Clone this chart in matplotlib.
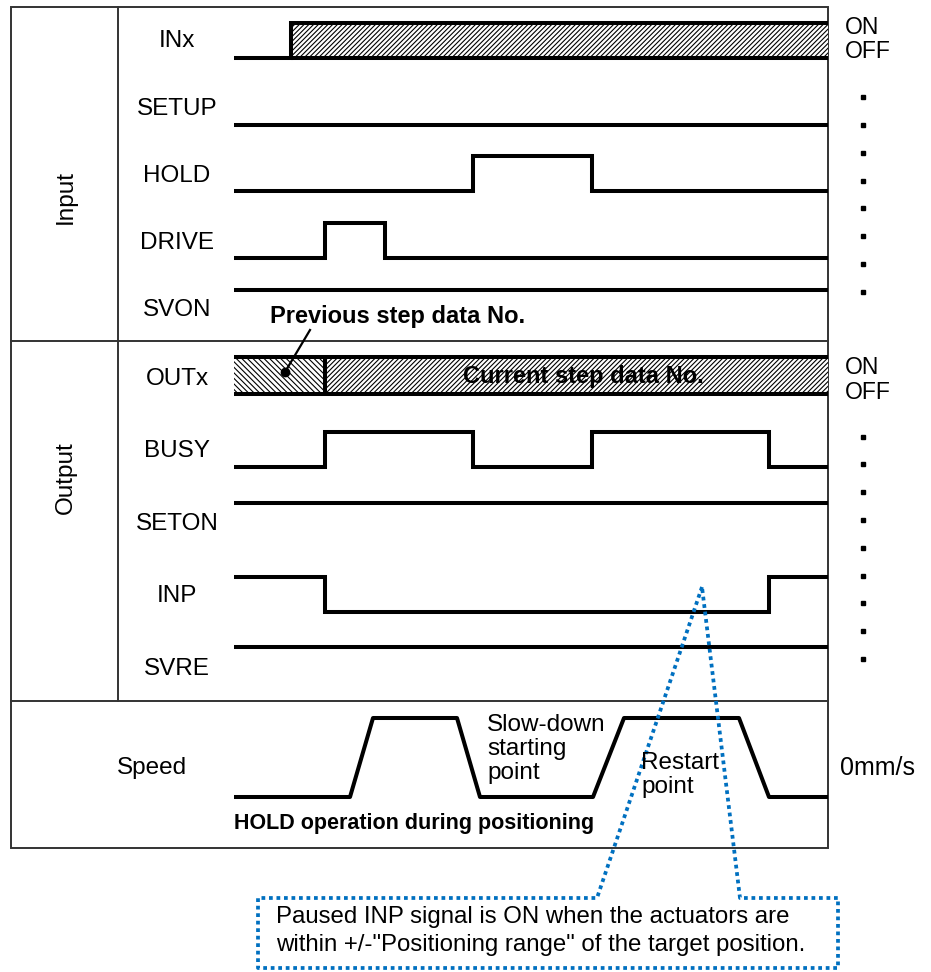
import matplotlib
matplotlib.use("Agg")
import matplotlib.pyplot as plt
from matplotlib.patches import Rectangle

plt.rcParams['font.family'] = ['Liberation Sans', 'DejaVu Sans']
plt.rcParams['hatch.linewidth'] = 0.8

# timing edges (x positions on the diagram's time axis)
T_START = 234
T_END = 828
inx_on = 291
outx_change = 325
hold_edges = [473, 592]
drive_edges = [325, 385]
busy_edges = [325, 473, 592, 769]
inp_edges = [325, 769]

# speed profile
speed_t = [234, 350, 373, 457, 480, 593, 624, 739, 769, 828]
speed_v = [0, 0, 1, 1, 0, 0, 1, 1, 0, 0]

input_names = ["INx", "SETUP", "HOLD", "DRIVE", "SVON"]
output_names = ["OUTx", "BUSY", "SETON", "INP", "SVRE"]
input_label_y = [41, 109, 176, 243, 310]
output_label_y = [379, 451, 524, 596, 669]

# low-level baseline of each row, amplitude of a pulse
input_low = [58, 125, 191, 258, 325]
output_low = [394, 467, 538, 612, 682]
AMP = 35

LW = 2.9
LINE = dict(color='black', lw=LW, solid_joinstyle='miter', solid_capstyle='butt')


def step_wave(edges, start_level, low):
    xs, ys = [T_START], []
    level = start_level
    ys.append(low - AMP * level)
    for e in edges:
        xs += [e, e]
        ys += [low - AMP * level, low - AMP * (1 - level)]
        level = 1 - level
    xs.append(T_END)
    ys.append(low - AMP * level)
    return xs, ys


fig = plt.figure(figsize=(9.31, 9.72), dpi=100)
ax = fig.add_axes([0, 0, 1, 1])
ax.set_xlim(0, 931)
ax.set_ylim(972, 0)
ax.axis('off')

# frame
frame = dict(color='#333333', lw=1.4)
ax.add_patch(Rectangle((11, 7), 817, 841, fill=False, ec='#333333', lw=1.4))
ax.plot([118, 118], [7, 701], **frame)
ax.plot([11, 828], [341, 341], **frame)
ax.plot([11, 828], [701, 701], **frame)

ax.text(66, 197, "Input", rotation=90, ha='center', va='center', fontsize=17.5)
ax.text(66, 478, "Output", rotation=90, ha='center', va='center', fontsize=17.5)

for name, y in zip(input_names + output_names, input_label_y + output_label_y):
    ax.text(177, y, name, ha='center', va='center', fontsize=17.5)

# INx
low = input_low[0]
ax.add_patch(Rectangle((inx_on, low - AMP), T_END - inx_on, AMP, fc='white',
                       ec='black', lw=0, hatch='/' * 7))
ax.plot([T_START, inx_on, inx_on, T_END], [low, low, low - AMP, low - AMP], **LINE)
ax.plot([inx_on, T_END], [low, low], **LINE)

# SETUP (off), HOLD, DRIVE, SVON (on)
ax.plot([T_START, T_END], [input_low[1]] * 2, **LINE)
ax.plot(*step_wave(hold_edges, 0, input_low[2]), **LINE)
ax.plot(*step_wave(drive_edges, 0, input_low[3]), **LINE)
ax.plot([T_START, T_END], [input_low[4] - AMP] * 2, **LINE)

# OUTx
low = output_low[0]
top = low - 37
ax.add_patch(Rectangle((T_START, top), outx_change - T_START, low - top, fc='white',
                       ec='black', lw=0, hatch='\\' * 6))
ax.add_patch(Rectangle((outx_change, top), T_END - outx_change, low - top, fc='white',
                       ec='black', lw=0, hatch='/' * 7))
ax.plot([T_START, T_END], [top, top], **LINE)
ax.plot([T_START, T_END], [low, low], **LINE)
ax.plot([outx_change, outx_change], [top, low], **LINE)
ax.text(463, 376, "Current step data No.", ha='left', va='center', fontsize=17,
        fontweight='bold')
ax.text(270, 316, "Previous step data No.", ha='left', va='center', fontsize=17,
        fontweight='bold')
ax.plot([310, 285], [330, 372], color='black', lw=1.6)
ax.plot([285], [372], 'o', color='black', ms=6)

# BUSY, SETON, INP, SVRE
ax.plot(*step_wave(busy_edges, 0, output_low[1]), **LINE)
ax.plot([T_START, T_END], [output_low[2] - AMP] * 2, **LINE)
ax.plot(*step_wave(inp_edges, 1, output_low[3]), **LINE)
ax.plot([T_START, T_END], [output_low[4] - AMP] * 2, **LINE)

# ON / OFF and dots
for y0 in (27, 367):
    ax.text(845, y0, "ON", ha='left', va='center', fontsize=16.5)
    ax.text(845, y0 + 25, "OFF", ha='left', va='center', fontsize=16.5)
dot_y = [97, 125, 153, 181, 208, 236, 264, 292,
         437, 464, 492, 520, 548, 576, 603, 631, 659]
ax.plot([863] * len(dot_y), dot_y, 's', color='black', ms=2.2)

# speed
SPEED_BASE = 797
SPEED_TOP = 79
ax.plot(speed_t, [SPEED_BASE - SPEED_TOP * v for v in speed_v], color='black', lw=LW,
        solid_joinstyle='round', solid_capstyle='butt')
ax.text(152, 768, "Speed", ha='center', va='center', fontsize=17.5)
ax.text(840, 768, "0mm/s", ha='left', va='center', fontsize=18)
ax.text(487, 749, "Slow-down\nstarting\npoint", ha='left', va='center', fontsize=17.5,
        linespacing=1.12)
ax.text(641, 775, "Restart\npoint", ha='left', va='center', fontsize=17.5,
        linespacing=1.12)
ax.text(234, 823, "HOLD operation during positioning", ha='left', va='center',
        fontsize=15.5, fontweight='bold')

# callout
call_x = [702, 597, 258, 258, 838, 838, 740, 702]
call_y = [587, 898, 898, 968, 968, 898, 898, 587]
ax.plot(call_x, call_y, color='#0070C0', lw=2.7, ls=(0, (1, 1)))
ax.text(276, 917, "Paused INP signal is ON when the actuators are", ha='left',
        va='center', fontsize=17.3)
ax.text(276, 945, "within +/-\"Positioning range\" of the target position.", ha='left',
        va='center', fontsize=17.3)

fig.savefig("out.png", dpi=100)
